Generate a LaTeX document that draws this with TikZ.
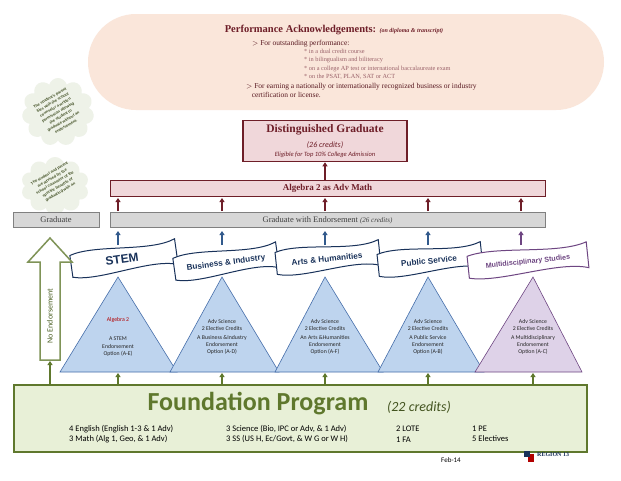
\documentclass[tikz,border=0pt]{standalone}
\usepackage{fontspec}
\setmainfont{Liberation Serif}
\newfontfamily\calf{Carlito}
\newfontfamily\sansf{Liberation Sans}
\usetikzlibrary{shapes.symbols,arrows.meta}
\definecolor{peach}{RGB}{250,230,218}
\definecolor{maroon}{RGB}{110,30,40}
\definecolor{pinkbox}{RGB}{240,215,218}
\definecolor{greyb}{RGB}{215,215,215}
\definecolor{tri}{RGB}{190,212,238}
\definecolor{triline}{RGB}{70,110,170}
\definecolor{lav}{RGB}{222,210,232}
\definecolor{lavline}{RGB}{110,70,130}
\definecolor{olive}{RGB}{95,120,45}
\definecolor{ltgreen}{RGB}{232,240,215}
\definecolor{navy}{RGB}{25,50,90}
\definecolor{cloudg}{RGB}{238,242,232}
\definecolor{arrowblue}{RGB}{50,90,140}
\tikzset{
 mup/.style={-{Triangle[length=4pt,width=5pt]},line width=1.6pt,maroon},
 bup/.style={-{Triangle[length=4pt,width=5pt]},line width=1.6pt,arrowblue},
 gup/.style={-{Triangle[length=4pt,width=5pt]},line width=1.4pt,olive},
 tri/.style={draw=triline,fill=tri,line width=0.6pt},
 tt/.style={font=\calf\fontsize{5.8}{7.2}\selectfont,align=center,text=black!85},
 banner/.style={draw=navy,fill=white,line width=1pt},
 btxt/.style={text=navy},
 ctxt/.style={rotate=30,align=center,font=\sansf\bfseries\fontsize{3.8}{5.4}\selectfont,text=olive!60!black},
}
\newcommand{\bannershape}[4]{% cx cy halfwidth rot
 \begin{scope}[shift={(#1,#2)},rotate=#4]
  \draw[banner] (-#3,-12) .. controls (-#3/2,-20) and (#3/2,-4) .. (#3,-14)
   -- (#3,12) .. controls (#3/2,2) and (-#3/2,18) .. (-#3,10) -- cycle;
 \end{scope}}
\begin{document}
\begin{tikzpicture}[x=1pt,y=-1pt]
\useasboundingbox (0,0) rectangle (621,480);
\fill[white] (0,0) rectangle (621,480);
% acknowledgements blob
\fill[peach,rounded corners=48pt] (88,14) rectangle (604,110);
\node (ack) at (334,30) {\fontsize{10.5}{12}\selectfont\bfseries\color{maroon}Performance Acknowledgements: {\itshape\fontsize{6}{7}\selectfont (on diploma \& transcript)}};
\node[anchor=west,font=\fontsize{7.5}{9}\selectfont,text=maroon!80!black,inner sep=0] (ack1) at (252,44)
 {$>$ For outstanding performance:};
\node[anchor=north west,align=left,font=\fontsize{6.3}{8.3}\selectfont,text=maroon!70,inner sep=0] (ack2) at (304,49)
 {* in a dual credit course\\* in bilingualism and biliteracy\\* on a college AP test or international baccalaureate exam\\* on the PSAT, PLAN, SAT or ACT};
\node[anchor=north west,align=left,font=\fontsize{7.5}{9.5}\selectfont,text=maroon!80!black,inner sep=0] (ack3) at (246,83)
 {$>$ For earning a nationally or internationally recognized business or industry\\\ \ \ certification or license.};
% clouds
\node[cloud,cloud puffs=11,aspect=1,fill=cloudg,minimum width=72pt,minimum height=68pt] (c1) at (58,112) {};
\node[ctxt] (c1t) at (58,112)
 {The student's parent\\files with the school\\counselor a written\\permission allowing\\the student to\\graduate without an\\endorsement.};
\node[cloud,cloud puffs=10,aspect=1.1,fill=cloudg,minimum width=68pt,minimum height=58pt] (c2) at (55,186) {};
\node[ctxt] (c2t) at (55,183)
 {The student and parent\\are advised by the\\school counselor of the\\specific benefits of\\graduating with an};
% distinguished
\node[draw=maroon,line width=1.6pt,fill=pinkbox,minimum width=164pt,minimum height=41pt] (dg) at (325,141) {};
\node[font=\fontsize{11.5}{13}\selectfont\bfseries,text=maroon] (dgt) at (325,130) {Distinguished Graduate};
\node[font=\calf\itshape\fontsize{8}{9}\selectfont,text=maroon] (dg2) at (325,145) {(26 credits)};
\node[font=\calf\itshape\fontsize{6.5}{7}\selectfont,text=maroon] (dg3) at (325,155) {Eligible for Top 10\% College Admission};
% algebra bar
\node[draw=maroon,line width=1pt,fill=pinkbox,minimum width=435pt,minimum height=16pt] (alg) at (327.5,188) {\fontsize{9}{10}\selectfont\bfseries\color{maroon}Algebra 2 as Adv Math};
\draw[mup] (alg.north -| dg.south) -- (dg.south);
% graduate bars
\node[draw=gray,line width=0.8pt,fill=greyb,minimum width=86pt,minimum height=15pt,font=\fontsize{8.5}{10}\selectfont,text=black!75] (grad) at (56,220) {Graduate};
\node[draw=gray,line width=0.8pt,fill=greyb,minimum width=435pt,minimum height=15pt,font=\fontsize{8.5}{10}\selectfont,text=black!75] (gwe) at (327.5,220) {Graduate with Endorsement {\itshape\fontsize{7}{8}\selectfont (26 credits)}};
\foreach \x in {118,222,325,428,521}{
 \draw[mup] (\x,211) -- (\x,198);
}
% triangles
\draw[tri] (118,277) -- (177,372) -- (60,372) -- cycle;
\draw[tri] (222,277) -- (279,372) -- (170,372) -- cycle;
\draw[tri] (325,277) -- (383,372) -- (275,372) -- cycle;
\draw[tri] (428,277) -- (484,372) -- (378,372) -- cycle;
\draw[draw=lavline,fill=lav,line width=0.6pt] (533,277) -- (582,372) -- (475,372) -- cycle;
% banners
\bannershape{124}{260}{53}{8}
\bannershape{226}{263}{52}{8}
\bannershape{328}{259}{52}{6}
\bannershape{430}{261}{52}{6}
\begin{scope}[shift={(528,262)},rotate=6]
 \draw[draw=lavline,fill=white,line width=1pt] (-60,-12) .. controls (-30,-20) and (30,-4) .. (60,-14)
   -- (60,12) .. controls (30,2) and (-30,18) .. (-60,10) -- cycle;
\end{scope}
\node[btxt,rotate=8,font=\sansf\bfseries\fontsize{12}{14}\selectfont] (bs) at (122,259) {STEM};
\node[btxt,rotate=8,font=\sansf\bfseries\fontsize{8.2}{10}\selectfont] (bb) at (226,263) {Business \& Industry};
\node[btxt,rotate=6,font=\sansf\bfseries\fontsize{8.2}{10}\selectfont] (ba) at (327,259) {Arts \& Humanities};
\node[btxt,rotate=6,font=\sansf\bfseries\fontsize{8.2}{10}\selectfont] (bp) at (429,261) {Public Service};
\node[rotate=6,font=\sansf\bfseries\fontsize{7.2}{9}\selectfont,text=lavline] (bm) at (528,262) {Multidisciplinary Studies};
\foreach \x in {118,222,325,428}{
 \draw[bup] (\x,245) -- (\x,231);
}
\draw[-{Triangle[length=4pt,width=5pt]},line width=1.6pt,lavline] (521,245) -- (521,231);
\node[tt] (t1) at (118,337) {{\color{red!70!black}Algebra 2}\\[12pt]A STEM\\Endorsement\\Option (A-E)};
\node[tt] (t2) at (222,337) {Adv Science\\2 Elective Credits\\[2pt]A Business \&Industry\\Endorsement\\Option (A-D)};
\node[tt] (t3) at (325,337) {Adv Science\\2 Elective Credits\\[2pt]An Arts \&Humanities\\Endorsement\\Option (A-F)};
\node[tt] (t4) at (428,337) {Adv Science\\2 Elective Credits\\[2pt]A Public Service\\Endorsement\\Option (A-B)};
\node[tt] (t5) at (533,337) {Adv Science\\2 Elective Credits\\[2pt]A Multidisciplinary\\Endorsement\\Option (A-C)};
% no endorsement arrow
\draw[draw=olive!80,fill=white,line width=1.5pt] (40,360) -- (40,262) -- (28,262) -- (50,238) -- (72,262) -- (60,262) -- (60,360) -- cycle;
\node[rotate=90,font=\calf\fontsize{8}{9}\selectfont,text=olive!80!black] (ne) at (50,316) {No Endorsement};
% foundation
\node[draw=olive,line width=1.6pt,fill=ltgreen,minimum width=573pt,minimum height=67pt] (fp) at (300.5,418.5) {};
\draw[gup] (50,384) -- (50,361);
\foreach \x in {118,222,325,428,533}{\draw[gup] (\x,384) -- (\x,373);}
\node[font=\calf\bfseries\fontsize{26}{30}\selectfont,text=olive] (fpt) at (258,404) {Foundation Program};
\node[font=\calf\itshape\fontsize{14}{16}\selectfont,text=olive!70!black] (fpc) at (419,407) {(22 credits)};
\node[anchor=west,align=left,font=\calf\fontsize{8.5}{10.5}\selectfont,inner sep=0] (f1) at (69,434) {4 English (English 1-3 \& 1 Adv)\\3 Math (Alg 1, Geo, \& 1 Adv)};
\node[anchor=west,align=left,font=\calf\fontsize{8.5}{10.5}\selectfont,inner sep=0] (f2) at (226,434) {3 Science (Bio, IPC or Adv, \& 1 Adv)\\3 SS (US H, Ec/Govt, \& W G or W H)};
\node[anchor=west,align=left,font=\calf\fontsize{8.5}{10.5}\selectfont,inner sep=0] (f3) at (396,434) {2 LOTE\\1 FA};
\node[anchor=west,align=left,font=\calf\fontsize{8.5}{10.5}\selectfont,inner sep=0] (f4) at (472,434) {1 PE\\5 Electives};
\node[font=\calf\fontsize{7}{8}\selectfont] (feb) at (451,460) {Feb-14};
\fill[red!70!black] (528,454) rectangle (534,462);
\fill[navy] (524,451) rectangle (530,457);
\node[anchor=west,font=\fontsize{6}{7}\selectfont\bfseries,text=navy,inner sep=0] (reg) at (537,455) {REGION 13};
\end{tikzpicture}
\end{document}
